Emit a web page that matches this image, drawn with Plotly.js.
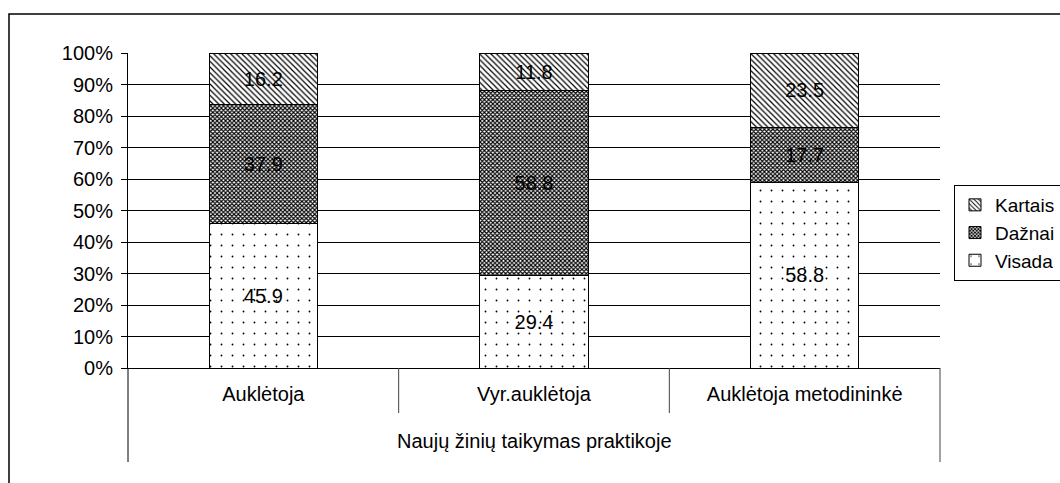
<!DOCTYPE html>
<html>
<head>
<meta charset="utf-8">
<script src="https://cdn.plot.ly/plotly-3.0.1.min.js"></script>
<style>
  html, body { margin: 0; padding: 0; background: #fff; }
  #chart { width: 1060px; height: 483px; }
</style>
</head>
<body>
<div id="chart"></div>
<script>
const categories = ["Auklėtoja", "Vyr.auklėtoja", "Auklėtoja metodininkė"];
const groupLabel = "Naujų žinių taikymas praktikoje";
const seriesNames = ["Visada", "Dažnai", "Kartais"];
const visada = [45.9, 29.4, 58.8];
const daznai = [37.9, 58.8, 17.7];
const kartais = [16.2, 11.8, 23.5];
const yTicks = [0, 10, 20, 30, 40, 50, 60, 70, 80, 90, 100];

const FONT = '"Liberation Sans", Arial, sans-serif';
const patterns = [
  {shape: '.', size: 11, solidity: 0.022, fgcolor: '#000', bgcolor: '#fff', fillmode: 'replace'},
  {shape: 'x', size: 3, solidity: 0.62, fgcolor: '#000', bgcolor: '#fff', fillmode: 'replace'},
  {shape: '\\', size: 4, solidity: 0.3, fgcolor: '#000', bgcolor: '#fff', fillmode: 'replace'}
];
const seriesValues = [visada, daznai, kartais];

const traces = seriesValues.map((vals, i) => ({
  type: 'bar',
  name: seriesNames[i],
  x: categories,
  y: vals,
  text: vals.map(v => v.toFixed(1)),
  textposition: 'inside',
  insidetextanchor: 'middle',
  textangle: 0,
  constraintext: 'none',
  textfont: {family: FONT, size: 20, color: '#000'},
  marker: {color: '#fff', pattern: patterns[i], line: {color: '#000', width: 1}},
  hoverinfo: 'skip'
}));

const L = 128, R = 940, T = 53, B = 368, W = 1060, H = 483;
const pw = R - L, ph = B - T;
const px = x => (x - L) / pw;
const py = y => (B - y) / ph;

const layout = {
  width: W, height: H,
  margin: {l: L, r: W - R, t: T, b: H - B, autoexpand: false},
  paper_bgcolor: '#fff', plot_bgcolor: '#fff',
  font: {family: FONT, size: 20, color: '#000'},
  barmode: 'stack',
  bargap: 0.6,
  showlegend: true,
  legend: {
    x: px(954), xanchor: 'left', y: py(185), yanchor: 'top',
    traceorder: 'reversed', bgcolor: '#fff', bordercolor: '#000', borderwidth: 1,
    font: {family: FONT, size: 19, color: '#000'}, itemwidth: 30, tracegroupgap: 0
  },
  xaxis: {
    type: 'category', showline: true, linecolor: '#000', linewidth: 1,
    showgrid: false, ticks: '', ticklabelstandoff: 8,
    tickfont: {family: FONT, size: 20, color: '#000'}, fixedrange: true
  },
  yaxis: {
    range: [0, 100], tickvals: yTicks, ticktext: yTicks.map(v => v + '%'),
    ticks: 'outside', ticklen: 6, tickcolor: '#000', tickwidth: 1,
    ticklabelstandoff: 4,
    showline: true, linecolor: '#000', linewidth: 1,
    showgrid: true, gridcolor: '#000', gridwidth: 1, zeroline: false,
    tickfont: {family: FONT, size: 20, color: '#000'}, fixedrange: true
  },
  annotations: [{
    xref: 'paper', yref: 'paper', x: 0.5, y: py(441), text: groupLabel,
    showarrow: false, xanchor: 'center', yanchor: 'middle',
    font: {family: FONT, size: 20, color: '#000'}
  }],
  shapes: [
    {type: 'line', xref: 'x', yref: 'paper', x0: 0.5, x1: 0.5, y0: 0, y1: py(413), line: {color: '#444', width: 1}},
    {type: 'line', xref: 'x', yref: 'paper', x0: 1.5, x1: 1.5, y0: 0, y1: py(413), line: {color: '#444', width: 1}},
    {type: 'line', xref: 'paper', yref: 'paper', x0: 0, x1: 0, y0: 0, y1: py(462), line: {color: '#000', width: 1}},
    {type: 'line', xref: 'paper', yref: 'paper', x0: 1, x1: 1, y0: 0, y1: py(462), line: {color: '#444', width: 1}},
    {type: 'rect', xref: 'paper', yref: 'paper', x0: px(9), x1: px(1070), y0: py(495), y1: py(14), line: {color: '#000', width: 1.5}, fillcolor: 'rgba(0,0,0,0)', layer: 'below'}
  ]
};

Plotly.newPlot('chart', traces, layout, {displayModeBar: false, staticPlot: true});
</script>
</body>
</html>
